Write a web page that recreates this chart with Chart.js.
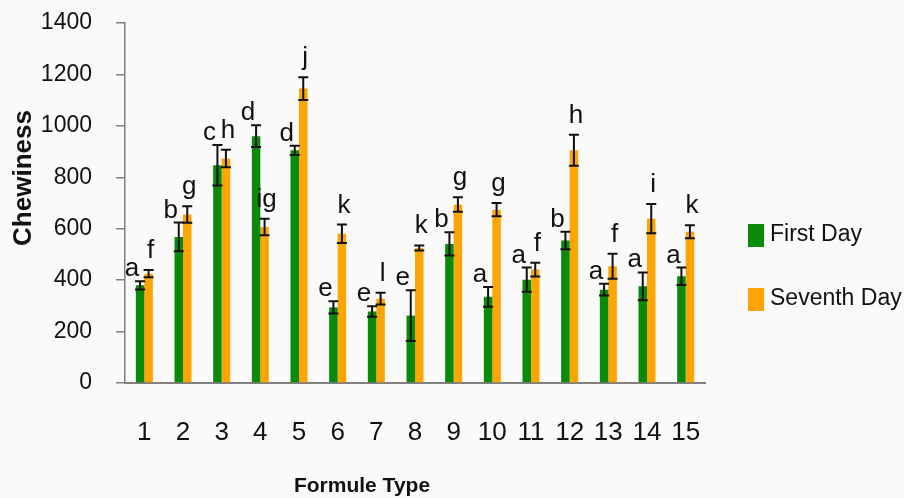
<!DOCTYPE html>
<html>
<head>
<meta charset="utf-8">
<script src="https://cdn.jsdelivr.net/npm/chart.js@4/dist/chart.umd.min.js"></script>
<style>
  html, body { margin: 0; padding: 0; background: #fafafa; }
  #wrap { width: 904px; height: 498px; position: relative; }
</style>
</head>
<body>
<div id="wrap"><canvas id="chart"></canvas></div>
<script>
const categories = ['1', '2', '3', '4', '5', '6', '7', '8', '9', '10', '11', '12', '13', '14', '15']
const firstDay = [380, 568, 847, 960, 905, 294, 278, 262, 541, 335, 402, 554, 363, 376, 415]
const firstDayErr = [16, 56, 79, 42, 18, 24, 20, 99, 45, 38, 47, 34, 23, 54, 34]
const firstDayLetters = ['a', 'b', 'c', 'd', 'd', 'e', 'e', 'e', 'b', 'a', 'a', 'b', 'a', 'a', 'a']
const seventhDay = [425, 655, 873, 607, 1145, 580, 328, 525, 694, 674, 441, 905, 454, 639, 588]
const seventhDayErr = [14, 32, 34, 32, 44, 36, 23, 10, 28, 26, 27, 60, 49, 57, 25]
const seventhDayLetters = ['f', 'g', 'h', 'ig', 'j', 'k', 'l', 'k', 'g', 'g', 'f', 'h', 'f', 'i', 'k']
const yTicks = [0, 200, 400, 600, 800, 1000, 1200, 1400]
const xTitle = 'Formule Type'
const yTitle = 'Chewiness'

const GREEN = '#0a8a0a'
const ORANGE = '#ffa500'
const FONT = "'Liberation Sans', Arial, sans-serif"

// light page background behind the plot
const background = {
  id: 'background',
  beforeDraw(chart) {
    const { ctx, width, height } = chart
    ctx.save()
    ctx.fillStyle = '#fafafa'
    ctx.fillRect(0, 0, width, height)
    ctx.restore()
  }
}

// +/- error bars and the letter groups above each bar
const errorBars = {
  id: 'errorBars',
  afterDatasetsDraw(chart) {
    const { ctx, scales: { y } } = chart
    chart.data.datasets.forEach((ds, di) => {
      const meta = chart.getDatasetMeta(di)
      meta.data.forEach((bar, i) => {
        const v = ds.data[i]
        const e = ds.errors[i]
        const top = y.getPixelForValue(v + e)
        const bot = y.getPixelForValue(v - e)
        ctx.save()
        ctx.strokeStyle = '#111'
        ctx.lineWidth = 2
        ctx.beginPath()
        ctx.moveTo(bar.x, top)
        ctx.lineTo(bar.x, bot)
        ctx.moveTo(bar.x - 5, top)
        ctx.lineTo(bar.x + 5, top)
        ctx.moveTo(bar.x - 5, bot)
        ctx.lineTo(bar.x + 5, bot)
        ctx.stroke()

        ctx.fillStyle = '#111'
        ctx.font = '26px ' + FONT
        ctx.textAlign = 'center'
        ctx.textBaseline = 'alphabetic'
        if (di === 0) {
          ctx.fillText(ds.letters[i], bar.x - 8, top - 5)
        } else {
          ctx.fillText(ds.letters[i], bar.x + 2, top - 12)
        }
        ctx.restore()
      })
    })
  }
}

// axis titles sit off-centre in the original, so place them by hand
const axisTitles = {
  id: 'axisTitles',
  afterDraw(chart) {
    const { ctx } = chart
    ctx.save()
    ctx.fillStyle = '#111'
    ctx.textAlign = 'center'
    ctx.textBaseline = 'middle'
    ctx.font = 'bold 21px ' + FONT
    ctx.fillText(xTitle, 362, 486)
    ctx.translate(24, 178)
    ctx.rotate(-Math.PI / 2)
    ctx.font = 'bold 26px ' + FONT
    ctx.fillText(yTitle, 0, 0)
    ctx.restore()
  }
}

// legend on the right, square markers like the original
const sideLegend = {
  id: 'sideLegend',
  afterDraw(chart) {
    const { ctx } = chart
    const rows = [235, 299]
    chart.data.datasets.forEach((ds, i) => {
      const cy = rows[i]
      ctx.save()
      ctx.fillStyle = ds.backgroundColor
      ctx.fillRect(748, cy - 11, 16, 23)
      ctx.fillStyle = '#111'
      ctx.font = '23px ' + FONT
      ctx.textAlign = 'left'
      ctx.textBaseline = 'middle'
      ctx.fillText(ds.label, 770, cy)
      ctx.restore()
    })
  }
}

const ctx = document.getElementById('chart').getContext('2d')
new Chart(ctx, {
  type: 'bar',
  data: {
    labels: categories,
    datasets: [
      {
        label: 'First Day',
        data: firstDay,
        errors: firstDayErr,
        letters: firstDayLetters,
        backgroundColor: GREEN,
        categoryPercentage: 0.44,
        barPercentage: 1.0,
      },
      {
        label: 'Seventh Day',
        data: seventhDay,
        errors: seventhDayErr,
        letters: seventhDayLetters,
        backgroundColor: ORANGE,
        categoryPercentage: 0.44,
        barPercentage: 1.0,
      },
    ],
  },
  options: {
    responsive: true,
    maintainAspectRatio: false,
    animation: false,
    layout: {
      padding: { top: 23, right: 199, bottom: 0, left: 0 }
    },
    plugins: {
      legend: { display: false },
      tooltip: { enabled: false },
    },
    scales: {
      x: {
        grid: { display: false },
        border: { color: '#808080', width: 2 },
        ticks: {
          color: '#111',
          padding: 26,
          font: { size: 26, family: FONT },
        },
        afterFit(scale) {
          scale.height = 115
        },
      },
      y: {
        min: 0,
        max: 1400,
        afterBuildTicks(scale) {
          scale.ticks = yTicks.map(v => ({ value: v }))
        },
        grid: {
          drawOnChartArea: false,
          drawTicks: true,
          tickLength: 9,
          color: '#808080',
          lineWidth: 1.5,
        },
        border: { color: '#808080', width: 1.5 },
        ticks: {
          color: '#111',
          padding: 24,
          font: { size: 23, family: FONT, lineHeight: 1.2 },
          callback: value => String(value),
        },
        afterFit(scale) {
          scale.width = 125
          // labels may overhang the plot top, so don't reserve room for them
          scale.paddingTop = 0
          scale.paddingBottom = 0
        },
      },
    },
  },
  plugins: [background, errorBars, axisTitles, sideLegend],
})
</script>
</body>
</html>
